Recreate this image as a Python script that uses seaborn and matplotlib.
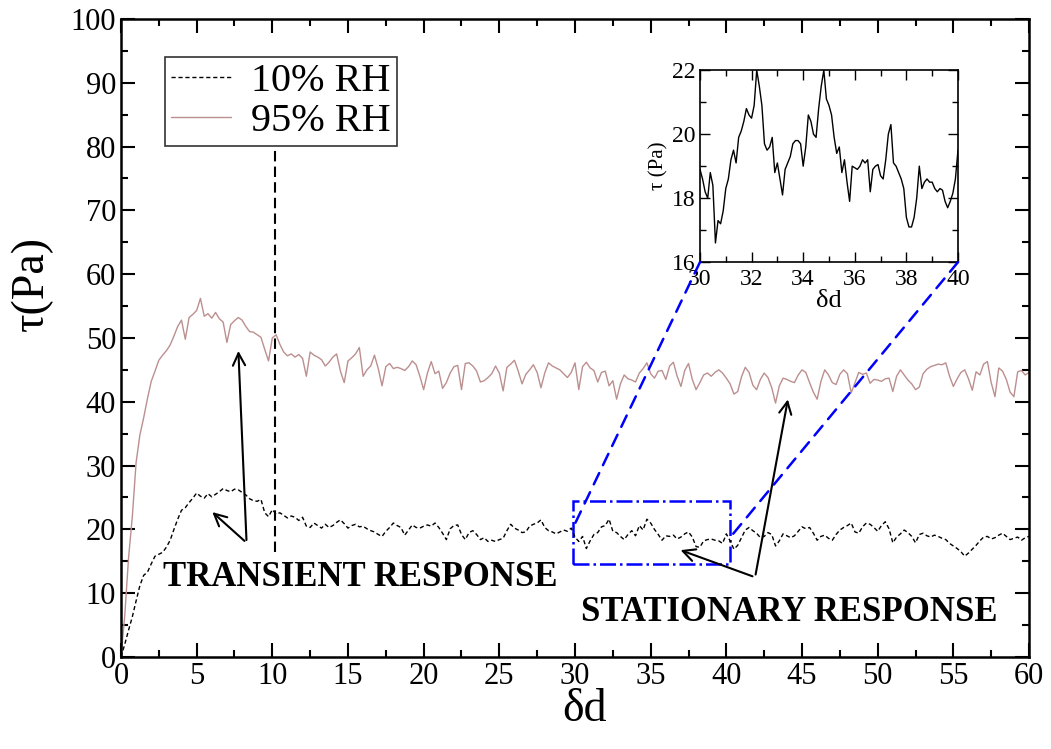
import numpy as np
import pandas as pd
import matplotlib
matplotlib.use("Agg")
import matplotlib.pyplot as plt
from matplotlib.patches import Rectangle, ConnectionPatch
from matplotlib.ticker import MultipleLocator
import seaborn as sns

# shear strain step for the main curves (0 .. 60, every 0.25)
delta_d = np.arange(241) * 0.25

tau_10rh = [
    0.0, 2.0, 4.2, 6.3, 8.8, 11.2, 12.8, 13.3, 14.6, 15.8, 16.1, 16.4, 17.2, 18.3, 20.0, 21.6, 23.0, 23.4, 24.2, 24.9,
    25.7, 25.2, 24.9, 25.6, 25.1, 25.5, 25.9, 26.4, 26.1, 25.9, 26.3, 26.2, 25.8, 25.4, 24.8, 24.5, 24.4, 24.7, 22.6, 22.0,
    23.1, 22.4, 22.6, 22.2, 21.8, 22.1, 21.9, 21.4, 21.9, 20.5, 20.3, 21.0, 20.6, 20.2, 20.8, 20.3, 20.6, 21.1, 21.5, 20.9,
    20.2, 20.6, 20.8, 20.4, 20.5, 20.1, 19.8, 19.6, 19.2, 18.9, 19.7, 20.3, 21.0, 20.6, 20.3, 19.1, 19.9, 20.7, 20.3, 20.2,
    20.5, 20.7, 20.5, 21.0, 20.3, 19.4, 18.4, 20.1, 20.6, 20.7, 19.2, 18.4, 19.5, 19.8, 19.2, 18.4, 18.7, 18.1, 18.3, 18.1,
    18.4, 18.6, 19.8, 20.8, 20.2, 19.9, 19.5, 19.6, 20.5, 20.8, 21.0, 21.5, 20.3, 19.8, 19.6, 19.3, 19.6, 19.9, 19.7, 20.2,
    18.8, 18.1, 18.9, 17.0, 18.2, 19.2, 19.5, 20.4, 20.6, 21.6, 19.7, 19.5, 18.9, 18.4, 19.2, 19.8, 19.0, 20.6, 19.9, 21.6,
    21.0, 20.0, 19.2, 18.3, 19.0, 18.9, 19.1, 18.5, 18.8, 19.3, 19.6, 18.8, 17.3, 17.2, 18.2, 18.4, 18.5, 18.3, 18.2, 17.8,
    19.3, 18.2, 16.9, 17.5, 18.7, 19.9, 20.3, 19.8, 19.4, 18.7, 18.9, 19.5, 19.2, 17.4, 18.2, 19.3, 19.0, 18.7, 19.0, 19.7,
    20.4, 20.1, 20.3, 19.4, 18.3, 18.9, 19.1, 18.6, 18.3, 19.2, 19.9, 20.3, 20.6, 21.0, 19.6, 19.4, 20.4, 21.0, 20.8, 20.3,
    19.7, 20.6, 21.2, 20.1, 17.9, 18.8, 19.3, 19.9, 19.5, 18.9, 17.9, 19.2, 19.4, 19.0, 18.8, 19.1, 18.9, 18.6, 18.4, 17.8,
    17.4, 17.0, 16.5, 15.8, 16.3, 16.9, 17.5, 18.2, 18.8, 18.9, 18.5, 18.7, 19.1, 19.4, 18.9, 18.4, 18.6, 18.8, 18.3, 18.7,
    18.9,
]

tau_95rh = [
    0.0, 6.5, 15.5, 22.0, 30.5, 34.8, 37.5, 40.5, 43.2, 44.8, 46.5, 47.3, 48.0, 48.9, 50.3, 51.8, 52.8, 49.8, 53.2, 53.7,
    54.3, 56.2, 53.4, 53.8, 53.1, 54.0, 53.0, 52.5, 49.3, 52.1, 52.7, 53.2, 52.8, 51.8, 51.0, 50.9, 50.5, 50.1, 48.2, 46.4,
    50.0, 50.5, 49.0, 47.8, 47.2, 47.5, 47.0, 47.4, 46.8, 44.0, 47.8, 47.3, 47.0, 46.6, 45.6, 46.2, 47.0, 47.5, 44.8, 43.0,
    46.4, 46.9, 47.5, 48.5, 44.0, 45.0, 45.6, 47.3, 45.2, 42.5, 45.5, 46.0, 45.2, 45.4, 45.2, 44.9, 45.5, 46.4, 45.8, 44.0,
    41.9, 44.5, 46.3, 44.4, 44.8, 42.1, 43.0, 44.5, 45.5, 45.7, 41.9, 46.0, 46.1, 45.6, 44.8, 43.1, 43.3, 43.8, 44.4, 45.6,
    44.5, 41.7, 45.4, 45.9, 46.5, 44.8, 42.8, 44.3, 45.0, 45.8, 44.6, 42.2, 44.5, 46.1, 45.6, 45.3, 45.0, 44.4, 43.8, 44.6,
    46.1, 41.9, 45.5, 46.2, 45.3, 44.9, 43.1, 44.6, 44.8, 42.5, 43.3, 40.4, 42.8, 44.2, 43.6, 43.4, 43.1, 44.5, 45.2, 46.1,
    44.4, 43.7, 44.8, 44.9, 43.5, 45.6, 46.2, 44.0, 42.4, 44.9, 46.0, 43.5, 41.9, 43.0, 44.2, 44.5, 44.0, 44.6, 45.0, 44.5,
    43.7, 42.8, 41.2, 41.6, 43.9, 45.4, 44.6, 42.6, 41.9, 43.5, 44.5, 43.8, 42.2, 39.8, 42.5, 43.7, 43.5, 43.2, 43.0, 44.2,
    45.0, 44.6, 43.0, 41.5, 40.4, 43.2, 45.0, 44.2, 43.0, 42.7, 44.3, 45.0, 44.4, 41.4, 43.0, 44.6, 44.3, 44.5, 42.9, 43.5,
    43.4, 43.2, 43.6, 43.7, 41.6, 44.0, 45.0, 44.2, 43.4, 42.8, 41.9, 42.3, 44.4, 45.1, 45.5, 45.7, 45.9, 45.8, 46.1, 44.0,
    42.4, 43.6, 44.6, 45.0, 43.6, 41.8, 44.7, 44.2, 45.9, 46.3, 43.0, 40.8, 45.3, 44.8, 43.5, 41.5, 40.8, 44.7, 44.9, 44.2,
    44.6,
]

# zoomed 10% RH window, 30 .. 40 every 0.1
inset_d = 30 + np.arange(101) * 0.1
inset_tau = [
    18.9, 18.6, 18.2, 18.0, 18.8, 18.4, 16.6, 17.3, 17.2, 17.6,
    18.3, 18.6, 19.2, 19.5, 19.1, 19.9, 20.1, 20.4, 20.8, 20.6,
    20.5, 20.9, 22.0, 21.5, 20.9, 19.7, 19.5, 19.6, 19.9, 18.8,
    19.1, 18.6, 18.1, 18.9, 19.1, 19.3, 19.7, 19.8, 19.8, 19.7,
    19.0, 19.6, 20.6, 20.4, 20.0, 19.9, 20.8, 21.5, 22.0, 21.1,
    20.9, 20.6, 19.9, 19.4, 19.6, 18.8, 19.2, 18.5, 17.9, 19.0,
    18.95, 18.9, 19.0, 19.2, 19.1, 19.2, 18.2, 18.9, 19.0, 19.05,
    18.7, 18.6, 19.2, 20.0, 20.3, 19.1, 19.0, 18.8, 18.6, 18.3,
    17.4, 17.1, 17.1, 17.4, 18.0, 19.0, 18.3, 18.5, 18.6, 18.5,
    18.5, 18.3, 18.2, 18.3, 18.25, 17.9, 17.7, 17.9, 18.15, 18.6,
    19.5,
]

sns.set_style("ticks")
plt.rcParams["font.family"] = ["Liberation Serif", "DejaVu Serif"]
plt.rcParams["mathtext.fontset"] = "stix"
# xmgrace-like: everything pure black
for k in ["text.color", "axes.labelcolor", "xtick.color", "ytick.color", "axes.edgecolor"]:
    plt.rcParams[k] = "black"

df = pd.DataFrame({"d": delta_d, "lo": tau_10rh, "hi": tau_95rh})

fig = plt.figure(figsize=(10.51, 7.49), dpi=100)
ax = fig.add_axes([0.1151, 0.1228, 0.864, 0.852])

sns.lineplot(data=df, x="d", y="lo", ax=ax, color="black", lw=1.0,
             linestyle=(0, (3, 2)), label="10% RH", estimator=None)
sns.lineplot(data=df, x="d", y="hi", ax=ax, color="#bc8f8f", lw=1.0,
             label="95% RH", estimator=None)

ax.set_xlim(0, 60)
ax.set_ylim(0, 100)
ax.xaxis.set_major_locator(MultipleLocator(5))
ax.xaxis.set_minor_locator(MultipleLocator(2.5))
ax.yaxis.set_major_locator(MultipleLocator(10))
ax.yaxis.set_minor_locator(MultipleLocator(5))
ax.tick_params(which="both", direction="in", top=True, right=True, width=1.5, labelsize=22)
ax.tick_params(which="major", length=10)
ax.tick_params(which="minor", length=5)
for s in ax.spines.values():
    s.set_linewidth(1.8)
    s.set_visible(True)
ax.set_xlabel("δd", fontsize=33)
ax.set_ylabel("τ(Pa)", fontsize=33)
ax.xaxis.set_label_coords(0.511, -0.05)
ax.yaxis.set_label_coords(-0.075, 0.585)

leg = ax.legend(loc="upper left", bbox_to_anchor=(0.048, 0.94), borderaxespad=0,
                fontsize=29, handlelength=1.5, handletextpad=0.5, labelspacing=0.05,
                borderpad=0.15, fancybox=False, frameon=True)
leg.get_frame().set_edgecolor("black")
leg.get_frame().set_linewidth(1.2)

# transient / stationary markers
ax.plot([10.2, 10.2], [16.5, 80], color="black", lw=1.5, linestyle=(0, (5, 2.5)))
ax.add_patch(Rectangle((29.9, 14.6), 10.35, 9.9, fill=False, edgecolor="blue",
                       lw=1.8, linestyle="-."))

arrow = dict(arrowstyle="->", color="black", lw=1.5, mutation_scale=22)
ax.annotate("", xy=(5.9, 23.0), xytext=(8.3, 17.9), arrowprops=arrow)
ax.annotate("", xy=(7.75, 48.4), xytext=(8.3, 17.9), arrowprops=arrow)
ax.annotate("", xy=(36.8, 16.9), xytext=(41.9, 12.5), arrowprops=arrow)
ax.annotate("", xy=(44.1, 40.8), xytext=(41.9, 12.5), arrowprops=arrow)

ax.text(2.78, 12.4, "TRANSIENT RESPONSE", fontsize=25, fontweight="bold",
        ha="left", va="center")
ax.text(30.4, 6.9, "STATIONARY RESPONSE", fontsize=25, fontweight="bold",
        ha="left", va="center")

# inset
axin = fig.add_axes([0.666, 0.650, 0.2455, 0.2563])
sns.lineplot(x=inset_d, y=inset_tau, ax=axin, color="black", lw=1.0, estimator=None)
axin.set_xlim(30, 40)
axin.set_ylim(16, 22)
axin.xaxis.set_major_locator(MultipleLocator(2))
axin.xaxis.set_minor_locator(MultipleLocator(1))
axin.yaxis.set_major_locator(MultipleLocator(2))
axin.yaxis.set_minor_locator(MultipleLocator(1))
axin.tick_params(which="both", direction="in", top=True, right=True, width=1.0, labelsize=17)
axin.tick_params(axis="x", pad=5)
axin.tick_params(which="major", length=7)
axin.tick_params(which="minor", length=4)
for s in axin.spines.values():
    s.set_linewidth(1.2)
    s.set_visible(True)
axin.set_xlabel("δd", fontsize=19, labelpad=0)
axin.set_ylabel("τ (Pa)", fontsize=15, labelpad=2)

for (xa, ya), (xb, yb) in [((0, 0), (29.9, 20.4)), ((1, 0), (40.2, 18.6))]:
    con = ConnectionPatch(xyA=(xa, ya), coordsA=axin.transAxes, xyB=(xb, yb),
                          coordsB=ax.transData, color="blue", lw=1.8,
                          linestyle=(0, (5, 3.5)))
    fig.add_artist(con)

fig.savefig("out.png", dpi=100)
